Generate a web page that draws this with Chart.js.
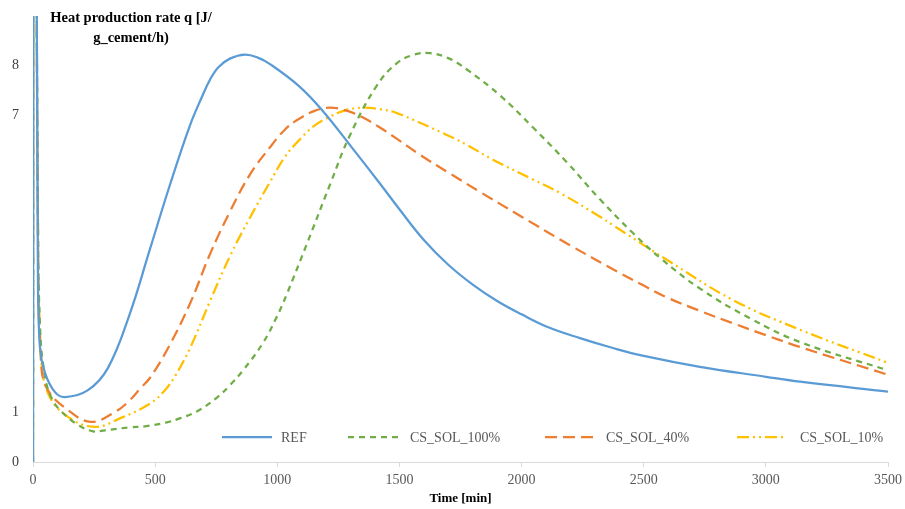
<!DOCTYPE html>
<html>
<head>
<meta charset="utf-8">
<script src="https://cdn.jsdelivr.net/npm/chart.js@4.4.1/dist/chart.umd.min.js"></script>
<style>
  html, body { margin: 0; padding: 0; background: #ffffff; }
  #wrap { width: 905px; height: 509px; position: relative; }
</style>
</head>
<body>
<div id="wrap"><canvas id="c"></canvas></div>
<script>
// ---- data (time in min, heat production rate q) ----
const seriesNames = ["REF", "CS_SOL_100%", "CS_SOL_40%", "CS_SOL_10%"];

const REF_t = [0, 3, 12, 20, 28, 49, 90, 131, 225, 307, 397, 479, 561, 643, 690, 725, 760, 806, 868, 920, 970, 1090, 1187, 1300, 1420, 1500, 1600, 1700, 1800, 1900, 2000, 2104, 2239, 2374, 2500, 2730, 3000, 3140, 3500];
const REF_q = [0, 20, 14, 4.0, 2.33, 1.8, 1.41, 1.31, 1.45, 1.9, 3.0, 4.3, 5.6, 6.8, 7.35, 7.72, 7.97, 8.14, 8.22, 8.16, 8.03, 7.58, 7.08, 6.38, 5.62, 5.1, 4.48, 3.98, 3.58, 3.25, 2.98, 2.73, 2.5, 2.3, 2.14, 1.92, 1.72, 1.62, 1.42];

const S100_t = [0, 3, 12, 20, 30, 50, 74, 110, 184, 246, 295, 397, 458, 548, 600, 671, 753, 806, 860, 941, 1000, 1040, 1121, 1216, 1298, 1408, 1490, 1560, 1625, 1700, 1776, 1911, 2047, 2185, 2321, 2456, 2567, 2730, 2935, 3140, 3500];
const S100_q = [0, 20, 14, 5, 2.6, 1.7, 1.31, 1.05, 0.75, 0.62, 0.64, 0.7, 0.72, 0.8, 0.88, 1.02, 1.3, 1.55, 1.85, 2.4, 2.95, 3.4, 4.4, 5.6, 6.6, 7.6, 8.05, 8.22, 8.25, 8.15, 7.92, 7.4, 6.75, 6.05, 5.3, 4.62, 4.12, 3.5, 2.9, 2.42, 1.85];

const S40_t = [0, 3, 12, 20, 33, 61, 143, 237, 336, 397, 442, 479, 553, 643, 725, 806, 888, 970, 1030, 1081, 1150, 1216, 1290, 1351, 1420, 1490, 1584, 1707, 1830, 2000, 2200, 2400, 2500, 2595, 2730, 2865, 3000, 3140, 3500];
const S40_q = [0, 20, 14, 5, 2.0, 1.45, 1.05, 0.81, 1.01, 1.25, 1.5, 1.7, 2.3, 3.2, 4.2, 5.05, 5.8, 6.35, 6.7, 6.9, 7.08, 7.15, 7.08, 6.95, 6.75, 6.52, 6.2, 5.82, 5.45, 4.95, 4.37, 3.82, 3.56, 3.32, 3.05, 2.8, 2.56, 2.32, 1.76];

const S10_t = [0, 3, 12, 20, 33, 61, 143, 254, 360, 480, 540, 580, 643, 725, 806, 888, 970, 1030, 1081, 1150, 1216, 1280, 1351, 1420, 1490, 1707, 1776, 1883, 2047, 2157, 2321, 2374, 2595, 2865, 3140, 3500];
const S10_q = [0, 20, 14, 5, 2.2, 1.39, 0.91, 0.71, 0.89, 1.18, 1.45, 1.72, 2.3, 3.25, 4.15, 4.93, 5.65, 6.15, 6.45, 6.78, 6.97, 7.1, 7.15, 7.12, 7.04, 6.57, 6.4, 6.1, 5.7, 5.43, 4.95, 4.78, 4.08, 3.27, 2.67, 2.0];

const xTicks = [0, 500, 1000, 1500, 2000, 2500, 3000, 3500];
const yTicks = [0, 1, 7, 8];
const yTitleLines = ["Heat production rate q [J/", "g_cement/h)"];
const xTitle = "Time [min]";

// ---- build ----
function pts(t, q) { return t.map((x, i) => ({ x: x, y: q[i] })); }

const styles = [
  { color: "#5B9BD5", dash: [] },
  { color: "#70AD47", dash: [6, 5] },
  { color: "#ED7D31", dash: [12, 6] },
  { color: "#FFC000", dash: [12, 4, 2, 4, 2, 4] }
];
const allData = [pts(REF_t, REF_q), pts(S100_t, S100_q), pts(S40_t, S40_q), pts(S10_t, S10_q)];

const datasets = allData.map((d, i) => ({
  label: seriesNames[i],
  data: d,
  borderColor: styles[i].color,
  backgroundColor: styles[i].color,
  borderDash: styles[i].dash,
  borderWidth: 2.25,
  pointRadius: 0,
  tension: 0.4,
  fill: false
}));

const SERIF = "'Liberation Serif', 'Times New Roman', serif";

const customText = {
  id: "customText",
  afterDraw(chart) {
    const ctx = chart.ctx;
    const ca = chart.chartArea;
    ctx.save();
    // y-axis title at top
    ctx.fillStyle = "#000000";
    ctx.font = "bold 14.5px " + SERIF;
    ctx.textAlign = "center";
    ctx.textBaseline = "middle";
    ctx.fillText(yTitleLines[0], 131, 18);
    ctx.fillText(yTitleLines[1], 131, 38);

    // legend inside plot area
    const legendY = ca.bottom - 25;
    const items = [
      { x0: 222, tx: 281 },
      { x0: 348, tx: 410 },
      { x0: 545, tx: 606 },
      { x0: 737, tx: 800 }
    ];
    ctx.font = "14px " + SERIF;
    ctx.textAlign = "left";
    chart.data.datasets.forEach((ds, i) => {
      const it = items[i];
      ctx.beginPath();
      ctx.strokeStyle = ds.borderColor;
      ctx.lineWidth = ds.borderWidth;
      ctx.setLineDash(ds.borderDash || []);
      ctx.moveTo(it.x0, legendY);
      ctx.lineTo(it.x0 + 50, legendY);
      ctx.stroke();
      ctx.setLineDash([]);
      ctx.fillStyle = "#595959";
      ctx.fillText(ds.label, it.tx, legendY + 1);
    });
    ctx.restore();
  }
};

new Chart(document.getElementById("c"), {
  type: "line",
  data: { datasets: datasets },
  options: {
    responsive: true,
    maintainAspectRatio: false,
    animation: false,
    layout: { padding: { top: 16, right: 17, left: 0, bottom: 0 } },
    plugins: {
      legend: { display: false },
      tooltip: { enabled: false }
    },
    scales: {
      x: {
        type: "linear",
        min: 0,
        max: 3500,
        afterBuildTicks: (s) => { s.ticks = xTicks.map(v => ({ value: v })); },
        afterFit: (s) => { s.height = 47; s.paddingLeft = 0; s.paddingRight = 0; },
        ticks: {
          color: "#595959",
          font: { family: SERIF, size: 14 },
          padding: 5,
          maxRotation: 0,
          callback: (v) => String(v)
        },
        grid: { display: true, drawOnChartArea: false, drawTicks: true, tickLength: 5, color: "#d9d9d9" },
        border: { display: true, color: "#d9d9d9", width: 1 },
        title: {
          display: true,
          text: xTitle,
          color: "#000000",
          font: { family: SERIF, size: 13, weight: "bold" },
          padding: { top: 0, bottom: 3 }
        }
      },
      y: {
        type: "linear",
        min: 0,
        max: 9,
        afterBuildTicks: (s) => { s.ticks = yTicks.map(v => ({ value: v })); },
        afterFit: (s) => { s.width = 33; s.paddingTop = 0; s.paddingBottom = 0; },
        ticks: {
          color: "#404040",
          font: { family: SERIF, size: 14 },
          padding: 14,
          callback: (v) => String(v)
        },
        grid: { display: false, drawTicks: false },
        border: { display: false }
      }
    }
  },
  plugins: [customText]
});
</script>
</body>
</html>
